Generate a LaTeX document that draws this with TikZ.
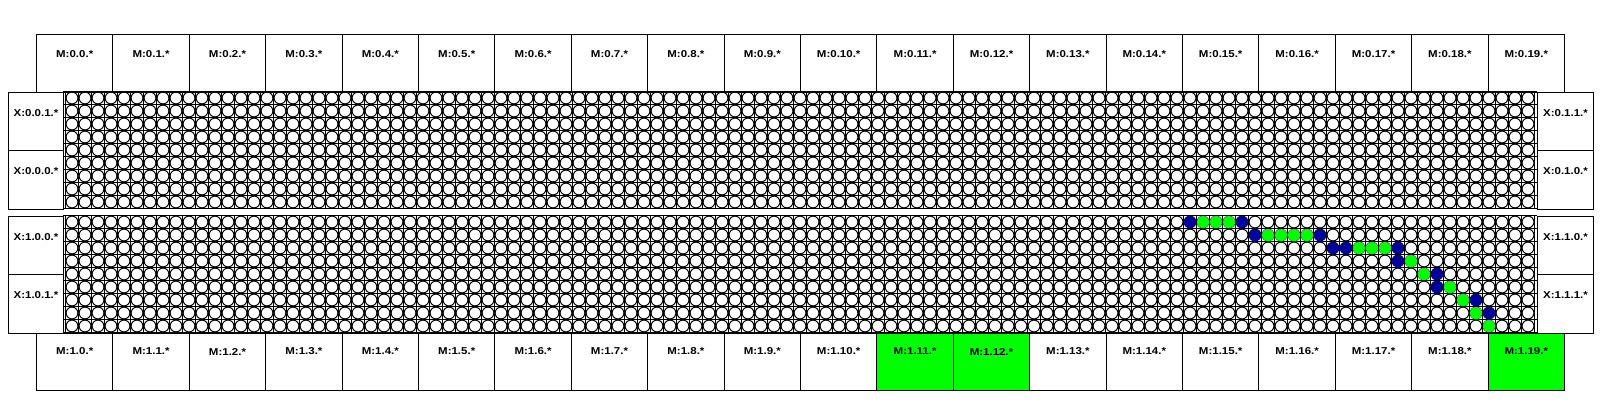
\documentclass[tikz,border=0pt]{standalone}
\usepackage{fontspec}
\setmainfont{Liberation Sans}[FakeStretch=1.15]
\usetikzlibrary{calc}
\definecolor{pathblue}{RGB}{0,0,155}
\definecolor{pathgreen}{RGB}{0,255,0}
\begin{document}
\begin{tikzpicture}[x=1pt,y=-1pt,
  box/.style={draw=black, line width=1pt, inner sep=0pt, anchor=north west},
  mbox/.style={box, minimum width=76.4pt},
  xbox/.style={box, minimum height=58.5pt},
  lbl/.style={font=\bfseries\fontsize{10}{12}\selectfont, inner sep=0pt, anchor=center},
  gline/.style={black, line width=1pt},
  cell/.style={draw=black, fill=white, line width=1pt},
  hop/.style={fill=#1, draw=none}]
\useasboundingbox (0,0) rectangle (1600,400);
\fill[white] (0,0) rectangle (1600,400);

% router grids (113 x 9 routers per half, pitch 13)
\foreach \top in {91.5, 215.5} {
  \foreach \k in {0,...,113} \draw[gline] ({65.5+\k*13},\top) -- ++(0,117);
  \foreach \k in {0,...,9} \draw[gline] (63,{\top+\k*13}) -- (1537,{\top+\k*13});
  \foreach \c in {0,...,112} {
    \foreach \r in {0,...,8} {
      \draw[cell] ({65.5+(\c+0.5)*13},{\top+(\r+0.5)*13}) circle[radius=5.9pt];
    }
  }
}

% highlighted route
\foreach \c/\r/\col in {86/0/pathblue, 87/0/pathgreen, 88/0/pathgreen, 89/0/pathgreen, 90/0/pathblue,
  91/1/pathblue, 92/1/pathgreen, 93/1/pathgreen, 94/1/pathgreen, 95/1/pathgreen, 96/1/pathblue,
  97/2/pathblue, 98/2/pathblue, 99/2/pathgreen, 100/2/pathgreen, 101/2/pathgreen, 102/2/pathblue,
  102/3/pathblue, 103/3/pathgreen,
  104/4/pathgreen, 105/4/pathblue,
  105/5/pathblue, 106/5/pathgreen,
  107/6/pathgreen, 108/6/pathblue,
  108/7/pathgreen, 109/7/pathblue,
  109/8/pathgreen} {
  \fill[hop=\col] ({65.5+(\c+0.5)*13},{215.5+(\r+0.5)*13}) circle[radius=6.1pt];
}

% top memory boxes
\foreach \i in {0,...,19} {
  \node[mbox, minimum height=57.2pt, label={[lbl, yshift=-19.5pt]north:{M:0.\i.*}}] (mt\i) at ({36+\i*76.4},34.3) {};
}
% bottom memory boxes
\foreach \i in {0,...,19} {
  \def\fc{white}
  \ifnum\i=11 \def\fc{pathgreen}\fi
  \ifnum\i=12 \def\fc{pathgreen}\fi
  \ifnum\i=19 \def\fc{pathgreen}\fi
  \node[mbox, fill=\fc, minimum height=57.5pt, label={[lbl, yshift=-19pt]north:{M:1.\i.*}}] (mb\i) at ({36+\i*76.4},332.5) {};
}

% link boxes
\node[xbox, minimum width=55pt, label={[lbl, yshift=-21.5pt]north:{X:0.0.1.*}}] (x001) at (8,91.5) {};
\node[xbox, minimum width=55pt, label={[lbl, yshift=-21.5pt]north:{X:0.0.0.*}}] (x000) at (8,150) {};
\node[xbox, minimum width=55pt, label={[lbl, yshift=-21.5pt]north:{X:1.0.0.*}}] (x100) at (8,215.5) {};
\node[xbox, minimum width=55pt, label={[lbl, yshift=-21.5pt]north:{X:1.0.1.*}}] (x101) at (8,274) {};
\node[xbox, minimum width=56pt, label={[lbl, yshift=-21.5pt]north:{X:0.1.1.*}}] (x011) at (1537,91.5) {};
\node[xbox, minimum width=56pt, label={[lbl, yshift=-21.5pt]north:{X:0.1.0.*}}] (x010) at (1537,150) {};
\node[xbox, minimum width=56pt, label={[lbl, yshift=-21.5pt]north:{X:1.1.0.*}}] (x110) at (1537,215.5) {};
\node[xbox, minimum width=56pt, label={[lbl, yshift=-21.5pt]north:{X:1.1.1.*}}] (x111) at (1537,274) {};
\end{tikzpicture}
\end{document}
